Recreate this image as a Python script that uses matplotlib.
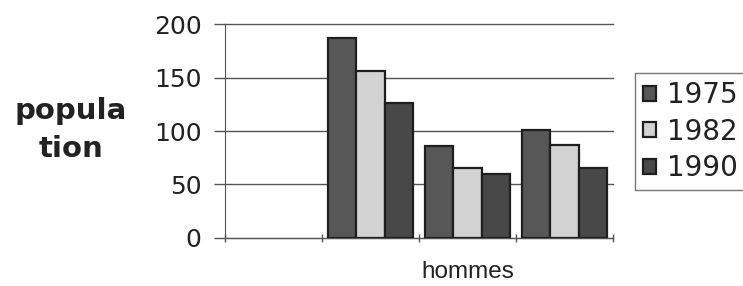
import matplotlib
matplotlib.use("Agg")
import matplotlib.pyplot as plt
import numpy as np

categories = ["", "", "hommes", ""]
years = ["1975", "1982", "1990"]
values_1975 = [np.nan, 187, 86, 101]
values_1982 = [np.nan, 156, 65, 87]
values_1990 = [np.nan, 126, 60, 65]
yticks = [0, 50, 100, 150, 200]

colors = ["#575757", "#d2d2d2", "#484848"]

fig = plt.figure(figsize=(7.43, 2.86), dpi=100)
ax = fig.add_axes([225/743, 1-237.7/286, (613-225)/743, (237.7-24.5)/286])

x = np.arange(len(categories)) + 0.5
w = 0.292
series = [values_1975, values_1982, values_1990]
for i, (vals, col, lab) in enumerate(zip(series, colors, years)):
    ax.bar(x + (i - 1) * w, vals, width=w, color=col, edgecolor="#1e1e1e",
           linewidth=1.6, label=lab, zorder=3)

ax.set_xlim(0, len(categories))
ax.set_ylim(0, 200)
ax.set_yticks(yticks)
ax.set_yticklabels([str(v) for v in yticks], fontsize=18, color="#222222")
ax.yaxis.grid(True, color="#555555", linewidth=1.0, zorder=0)
for gl in ax.get_ygridlines():
    gl.set_clip_on(False)
ax.set_axisbelow(True)

ax.set_xticks(np.arange(len(categories) + 1))
ax.set_xticklabels([])
ax.set_xticks(x, minor=True)
ax.set_xticklabels(categories, minor=True, fontsize=17.5, color="#222222",
                   family="Liberation Sans")
ax.tick_params(axis="x", which="minor", length=0, pad=17)
ax.tick_params(axis="x", which="major", length=6, width=1, color="#555555", direction="inout")
ax.tick_params(axis="y", length=8, width=1, color="#555555", pad=9)

for s in ["top", "right"]:
    ax.spines[s].set_visible(False)
ax.spines["left"].set_color("#555555")
ax.spines["bottom"].set_color("#555555")

fig.text(71/743, 1-130/286, "popula\ntion", fontsize=21, fontweight="bold",
         ha="center", va="center", multialignment="center", color="#222222",
         linespacing=1.45)

leg = fig.legend(loc="upper left", bbox_to_anchor=(635/743, 1-73/286),
                 fontsize=20, frameon=True, fancybox=False, edgecolor="#555555",
                 handlelength=0.45, handleheight=0.45, handletextpad=0.4,
                 labelspacing=0.3, borderpad=0.3, borderaxespad=0)
leg.get_frame().set_linewidth(1.0)
for t in leg.get_texts():
    t.set_color("#222222")

fig.savefig("out.png", dpi=100)
